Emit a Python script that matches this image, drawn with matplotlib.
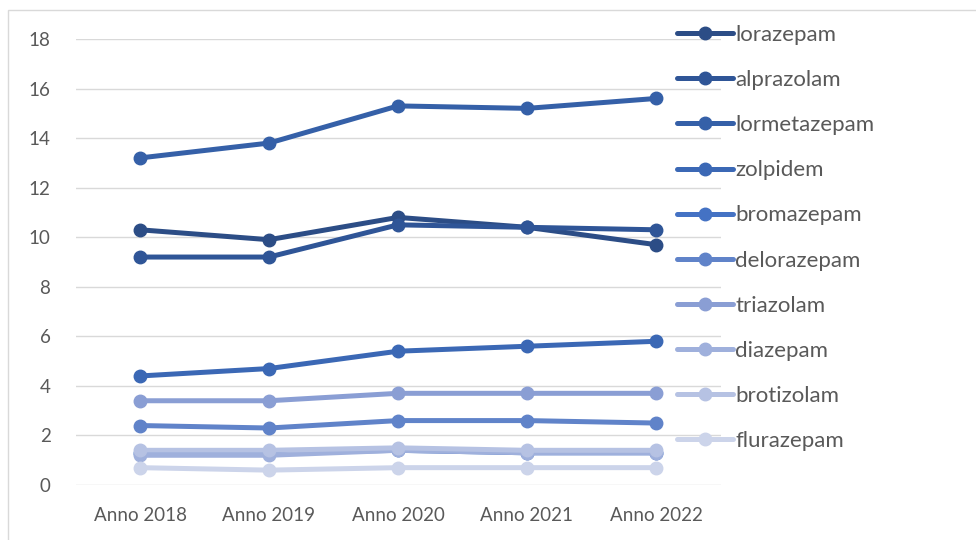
import matplotlib
matplotlib.use("Agg")
import matplotlib.pyplot as plt
from matplotlib.patches import Rectangle

years = ["Anno 2018", "Anno 2019", "Anno 2020", "Anno 2021", "Anno 2022"]

lorazepam = [10.3, 9.9, 10.8, 10.4, 9.7]
alprazolam = [9.2, 9.2, 10.5, 10.4, 10.3]
lormetazepam = [13.2, 13.8, 15.3, 15.2, 15.6]
zolpidem = [4.4, 4.7, 5.4, 5.6, 5.8]
bromazepam = [1.3, 1.3, 1.4, 1.3, 1.3]
delorazepam = [2.4, 2.3, 2.6, 2.6, 2.5]
triazolam = [3.4, 3.4, 3.7, 3.7, 3.7]
diazepam = [1.2, 1.2, 1.4, 1.3, 1.3]
brotizolam = [1.4, 1.4, 1.5, 1.4, 1.4]
flurazepam = [0.7, 0.6, 0.7, 0.7, 0.7]

series_names = ["lorazepam", "alprazolam", "lormetazepam", "zolpidem", "bromazepam",
                "delorazepam", "triazolam", "diazepam", "brotizolam", "flurazepam"]
series_values = [lorazepam, alprazolam, lormetazepam, zolpidem, bromazepam,
                 delorazepam, triazolam, diazepam, brotizolam, flurazepam]
colors = ["#2c4d86", "#2f5597", "#3560a8", "#3b68b5", "#4472c4",
          "#6083c9", "#8a9ed4", "#9fb0dc", "#b6c2e3", "#ccd4ea"]

plt.rcParams["font.family"] = ["Lato", "DejaVu Sans"]

W, H = 976, 540
fig = plt.figure(figsize=(W / 100, H / 100), dpi=100)

# chart area border
fig.patches.append(Rectangle((8 / W, -0.1), 1.2, (H - 10) / H + 0.1,
                             transform=fig.transFigure, fill=False,
                             edgecolor="#d9d9d9", linewidth=1.0))

ax = fig.add_axes([75.5 / W, 1 - 485 / H, (720.5 - 75.5) / W, (485 - 39) / H])
x = list(range(len(years)))
for name, vals, c in zip(series_names, series_values, colors):
    ax.plot(x, vals, color=c, linewidth=3.6, marker="o", markersize=9,
            solid_capstyle="round", label=name, zorder=3)

ax.set_xlim(-0.5, len(years) - 0.5)
ax.set_ylim(0, 18)
ax.set_yticks(range(0, 19, 2))
ax.set_xticks(x)
ax.set_xticklabels(years)
ax.tick_params(axis="both", length=0, labelsize=13.5, labelcolor="#595959")
ax.tick_params(axis="y", pad=18)
ax.tick_params(axis="x", pad=16)
ax.grid(axis="y", color="#d9d9d9", linewidth=1.0, zorder=0)
for s in ax.spines.values():
    s.set_visible(False)

leg = fig.legend(loc="upper left", bbox_to_anchor=(677 / W, 1 - 25 / H),
                 frameon=False, fontsize=16, labelspacing=1.13,
                 handlelength=2.5, handletextpad=0.12, borderaxespad=0,
                 borderpad=0)
for t in leg.get_texts():
    t.set_color("#595959")

fig.savefig("out.png", dpi=100)
